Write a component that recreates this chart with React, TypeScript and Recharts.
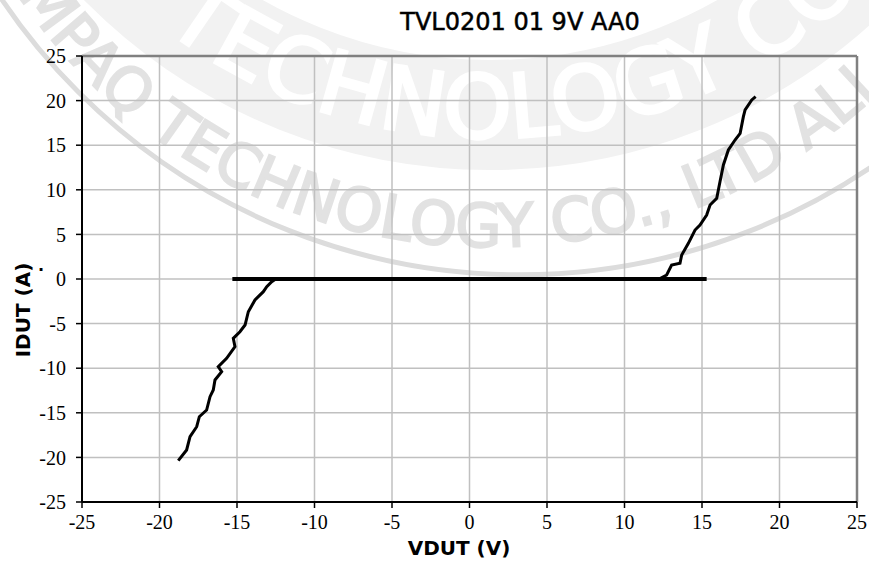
import React from "react";
import {
  CartesianGrid,
  Line,
  LineChart,
  ReferenceLine,
  XAxis,
  YAxis,
} from "recharts";

// axis ticks
const xTicks = [-25, -20, -15, -10, -5, 0, 5, 10, 15, 20, 25];
const yTicks = [-25, -20, -15, -10, -5, 0, 5, 10, 15, 20, 25];

// flat (leakage) part of the sweep
const flatV = [-15.3, 15.3];
const flatI = [0, 0];

// negative breakdown branch
const negV = [-18.79, -18.25, -18.03, -17.6, -17.43, -16.96, -16.74, -16.53, -16.42, -15.99, -16.21, -15.67, -15.13, -15.24, -14.81, -14.48, -14.27, -13.84, -13.3, -13.08, -12.76, -12.55];
const negI = [-20.37, -19.17, -17.68, -16.56, -15.44, -14.69, -13.19, -12.44, -11.32, -10.39, -9.83, -8.89, -7.59, -6.65, -5.91, -5.16, -3.67, -2.35, -1.42, -0.86, -0.3, -0.05];

// positive breakdown branch
const posV = [12.29, 12.72, 13.04, 13.58, 13.69, 14.12, 14.55, 14.87, 15.3, 15.52, 15.95, 16.16, 16.38, 16.7, 17.13, 17.46, 17.67, 17.78, 18.21, 18.46];
const posI = [0.05, 0.45, 1.57, 1.76, 2.69, 4.0, 5.49, 6.05, 7.17, 8.3, 9.04, 10.91, 12.78, 14.46, 15.58, 16.33, 18.2, 18.95, 20.07, 20.44];

const toPoints = (v: number[], i: number[]) => v.map((x, k) => ({ v: x, i: i[k] }));

const W = 869;
const H = 561;

// serif faces are not on the box; narrow sans is the closest stand-in
const tickFont = `"Liberation Serif", "Liberation Sans Narrow", Roboto, sans-serif`;
const labelFont = "'DejaVu Sans', Verdana, sans-serif";
const WM = "#e2e2e2";

// arc through the bottom of a circle, left to right
function bottomArc(cx: number, cy: number, r: number) {
  return `M ${cx - r} ${cy} A ${r} ${r} 0 0 0 ${cx + r} ${cy}`;
}

function Watermark() {
  return (
    <svg width={W} height={H} style={{ position: "absolute", left: 0, top: 0 }}>
      <defs>
        <path id="wmLow" d={bottomArc(490, -321, 568)} />
        <path id="wmHigh" d={bottomArc(490, -400, 538)} />
      </defs>
      {/* grey band with knocked-out letters */}
      <path d={bottomArc(490, -400, 515)} fill="none" stroke="#f2f2f2" strokeWidth={110} />
      <text style={{ fontFamily: labelFont, fontSize: 88, fill: "#fff" }} stroke="#fff" strokeWidth={3}>
        <textPath href="#wmHigh" startOffset={494}>
          TECHNOLOGY CO
        </textPath>
      </text>
      <path d={bottomArc(520, -350, 625)} fill="none" stroke="#dcdcdc" strokeWidth={5} />
      <text style={{ fontFamily: labelFont, fontSize: 60, fill: WM }} stroke={WM} strokeWidth={2}>
        <textPath href="#wmLow" startOffset={245}>
          COMPAQ TECHNOLOGY CO., LTD ALL RIGHTS RESERVED
        </textPath>
      </text>
    </svg>
  );
}

export default function App() {
  const flat = toPoints(flatV, flatI);
  const neg = toPoints(negV, negI);
  const pos = toPoints(posV, posI);
  const tick = { fontSize: 20, fill: "#000", fontFamily: tickFont };

  return (
    <div style={{ position: "absolute", left: 0, top: 0, width: W, height: H, background: "#fff", overflow: "hidden" }}>
      <Watermark />
      <div style={{ position: "absolute", left: 0, top: 0 }}>
        <LineChart width={W} height={H} margin={{ top: 56, right: 12, bottom: 0, left: 0 }}>
          <CartesianGrid stroke="#c0c0c0" strokeWidth={1.5} />
          <XAxis
            type="number"
            dataKey="v"
            domain={[-25, 25]}
            ticks={xTicks}
            allowDataOverflow
            height={59}
            tick={tick}
            tickSize={6}
            tickMargin={7}
            axisLine={{ stroke: "#000", strokeWidth: 2 }}
            tickLine={{ stroke: "#000", strokeWidth: 1.5 }}
          />
          <YAxis
            type="number"
            dataKey="i"
            domain={[-25, 25]}
            ticks={yTicks}
            allowDataOverflow
            width={82}
            tick={tick}
            tickSize={6}
            tickMargin={10}
            axisLine={{ stroke: "#000", strokeWidth: 2 }}
            tickLine={{ stroke: "#000", strokeWidth: 1.5 }}
          />
          <ReferenceLine y={25} stroke="#808080" strokeWidth={2.5} />
          <ReferenceLine x={25} stroke="#808080" strokeWidth={2.5} />
          <Line data={flat} dataKey="i" type="linear" stroke="#000" strokeWidth={4} dot={false} isAnimationActive={false} />
          <Line data={neg} dataKey="i" type="linear" stroke="#000" strokeWidth={3} dot={false} isAnimationActive={false} />
          <Line data={pos} dataKey="i" type="linear" stroke="#000" strokeWidth={3} dot={false} isAnimationActive={false} />
        </LineChart>
      </div>
      <svg width={W} height={H} style={{ position: "absolute", left: 0, top: 0, pointerEvents: "none" }}>
        <text x={520} y={30} textAnchor="middle" stroke="#000" strokeWidth={0.5} style={{ fontFamily: labelFont, fontSize: 24, fill: "#000" }}>
          TVL0201 01 9V AA0
        </text>
        <text x={459} y={555} textAnchor="middle" style={{ fontFamily: labelFont, fontSize: 20, fontWeight: "bold", fill: "#000" }}>
          VDUT (V)
        </text>
        <text transform="translate(30,310) rotate(-90)" textAnchor="middle" style={{ fontFamily: labelFont, fontSize: 20, fontWeight: "bold", fill: "#000" }}>
          IDUT (A)
        </text>
        <text x={38} y={271} style={{ fontFamily: labelFont, fontSize: 16, fontWeight: "bold", fill: "#000" }}>
          .
        </text>
      </svg>
    </div>
  );
}
